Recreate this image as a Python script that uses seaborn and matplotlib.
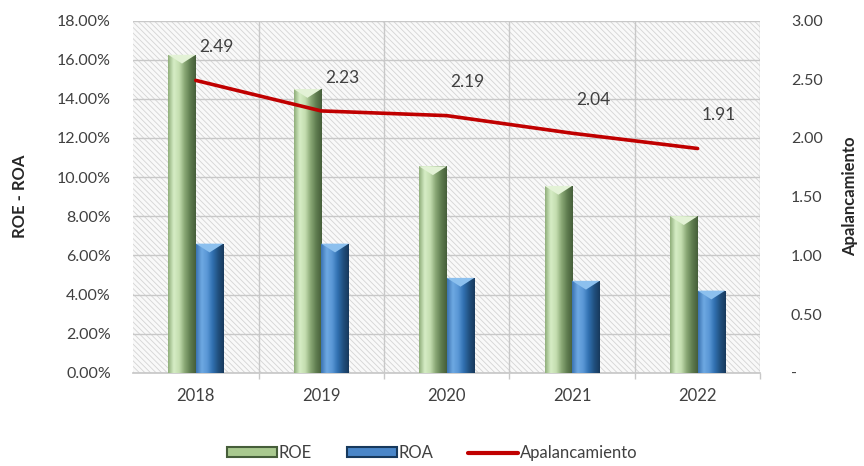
import numpy as np
import pandas as pd
import matplotlib
matplotlib.use("Agg")
import matplotlib.pyplot as plt
from matplotlib.colors import LinearSegmentedColormap
from matplotlib.patches import Rectangle, Polygon
from matplotlib.lines import Line2D
from matplotlib.ticker import FuncFormatter, MultipleLocator
import seaborn as sns

# --- data -------------------------------------------------------------
years = ["2018", "2019", "2020", "2021", "2022"]
roe = [16.25, 14.50, 10.55, 9.55, 8.00]          # %
roa = [6.60, 6.60, 4.85, 4.70, 4.20]             # %
apalancamiento = [2.49, 2.23, 2.19, 2.04, 1.91]  # veces

sns.set_theme(style="white")
plt.rcParams["font.family"] = ["Lato", "DejaVu Sans"]
plt.rcParams["hatch.linewidth"] = 0.6

TXT = "#404040"
RED = "#c00000"

df = pd.DataFrame({
    "Año": years * 2,
    "Serie": ["ROE"] * len(years) + ["ROA"] * len(years),
    "Valor": roe + roa,
})

fig = plt.figure(figsize=(8.64, 4.66), dpi=100)
ax = fig.add_axes([0.154, 0.2, 0.726, 0.756])

# hatched plot-area background
ax.add_patch(Rectangle((0, 0), 1, 1, transform=ax.transAxes, facecolor="#f9f9f9",
                       edgecolor="#d4d4d4", linewidth=0, hatch="\\\\\\\\\\\\", zorder=0))

sns.barplot(data=df, x="Año", y="Valor", hue="Serie", ax=ax,
            palette={"ROE": "#a9c98f", "ROA": "#4a86c8"},
            width=0.44, gap=0, saturation=1, legend=False, zorder=3,
            edgecolor="none")

ax.set_ylim(0, 18)
ax.set_xlim(-0.5, len(years) - 0.5)
ax.yaxis.set_major_locator(MultipleLocator(2))
ax.yaxis.set_major_formatter(FuncFormatter(lambda v, p: f"{v:.2f}%"))

# cylinder-like shading for each bar
grads = {
    "ROE": ["#8fae7a", "#d6edc6", "#c4deb0", "#89a775", "#5f7d50", "#465e3a"],
    "ROA": ["#3b73b2", "#6ea9e2", "#5a97d6", "#3070b0", "#21507f", "#17395c"],
}
n = len(years)
bars = [p for p in ax.patches if isinstance(p, Rectangle) and p.get_zorder() == 3]
for k, patch in enumerate(bars):
    serie = "ROE" if k < n else "ROA"
    x0, y0 = patch.get_x(), patch.get_y()
    w, h = patch.get_width(), patch.get_height()
    cmap = LinearSegmentedColormap.from_list(serie, grads[serie])
    img = ax.imshow(np.linspace(0, 1, 64).reshape(1, -1), cmap=cmap, aspect="auto",
                    extent=(x0, x0 + w, y0, y0 + h), zorder=3.5, interpolation="bicubic")
    img.set_clip_path(patch)
    top_col = "#e3f2d6" if serie == "ROE" else "#8cc0ee"
    ax.add_patch(Polygon([(x0, y0 + h), (x0 + w, y0 + h), (x0 + w * 0.5, y0 + h - 0.45)],
                         closed=True, facecolor=top_col, edgecolor="none", zorder=3.6))

# grid: horizontal on the % scale, vertical between categories
ax.set_xticks(np.arange(n) + 0.5, minor=True)
ax.grid(axis="y", which="major", color="#c8c8c8", linewidth=1.0, zorder=1)
ax.grid(axis="x", which="minor", color="#c8c8c8", linewidth=1.0, zorder=1)
ax.set_axisbelow(True)
ax.tick_params(axis="x", which="minor", bottom=True, length=4, color="#c8c8c8")
ax.tick_params(axis="x", which="major", bottom=False, length=0, labelsize=12,
               labelcolor=TXT, pad=11)
ax.tick_params(axis="y", which="both", left=False, length=0, labelsize=11.5,
               labelcolor=TXT, pad=16)
for s in ["top", "right", "left"]:
    ax.spines[s].set_visible(False)
ax.spines["bottom"].set_color("#c8c8c8")
ax.set_xlabel("")
ax.set_ylabel("ROE - ROA", fontsize=12, fontweight="bold", color="#262626", labelpad=21)

# leverage line on the secondary axis
ax2 = ax.twinx()
sns.lineplot(x=np.arange(n), y=apalancamiento, ax=ax2, color=RED, linewidth=2.6,
             zorder=5)
ax2.set_ylim(0, 3)
ax2.yaxis.set_major_locator(MultipleLocator(0.5))
ax2.yaxis.set_major_formatter(FuncFormatter(lambda v, p: "-" if v == 0 else f"{v:.2f}"))
ax2.tick_params(axis="y", which="both", right=False, left=False, length=0,
                labelsize=11.5, labelcolor=TXT, pad=22)
for s in ax2.spines.values():
    s.set_visible(False)
ax2.set_ylabel("Apalancamiento", fontsize=12, fontweight="bold", color="#262626",
               labelpad=14)
ax2.yaxis.set_label_position("right")
for i, v in enumerate(apalancamiento):
    ax2.annotate(f"{v:.2f}", xy=(i, v), xytext=(15, 24), textcoords="offset points",
                 ha="center", va="center", fontsize=12.5, color=TXT)

# legend
handles = [
    Rectangle((0, 0), 1, 1, facecolor="#a9c98f", edgecolor="#465e3a", linewidth=1.5),
    Rectangle((0, 0), 1, 1, facecolor="#4a86c8", edgecolor="#17395c", linewidth=1.5),
    Line2D([0], [0], color=RED, linewidth=3),
]
fig.legend(handles, ["ROE", "ROA", "Apalancamiento"], loc="center",
           bbox_to_anchor=(0.5, 0.028), ncol=3, frameon=False, fontsize=12,
           handlelength=3.0, handleheight=0.5, handletextpad=0.1, columnspacing=2.1,
           labelcolor=TXT)

fig.savefig("out.png", dpi=100, facecolor="white")
